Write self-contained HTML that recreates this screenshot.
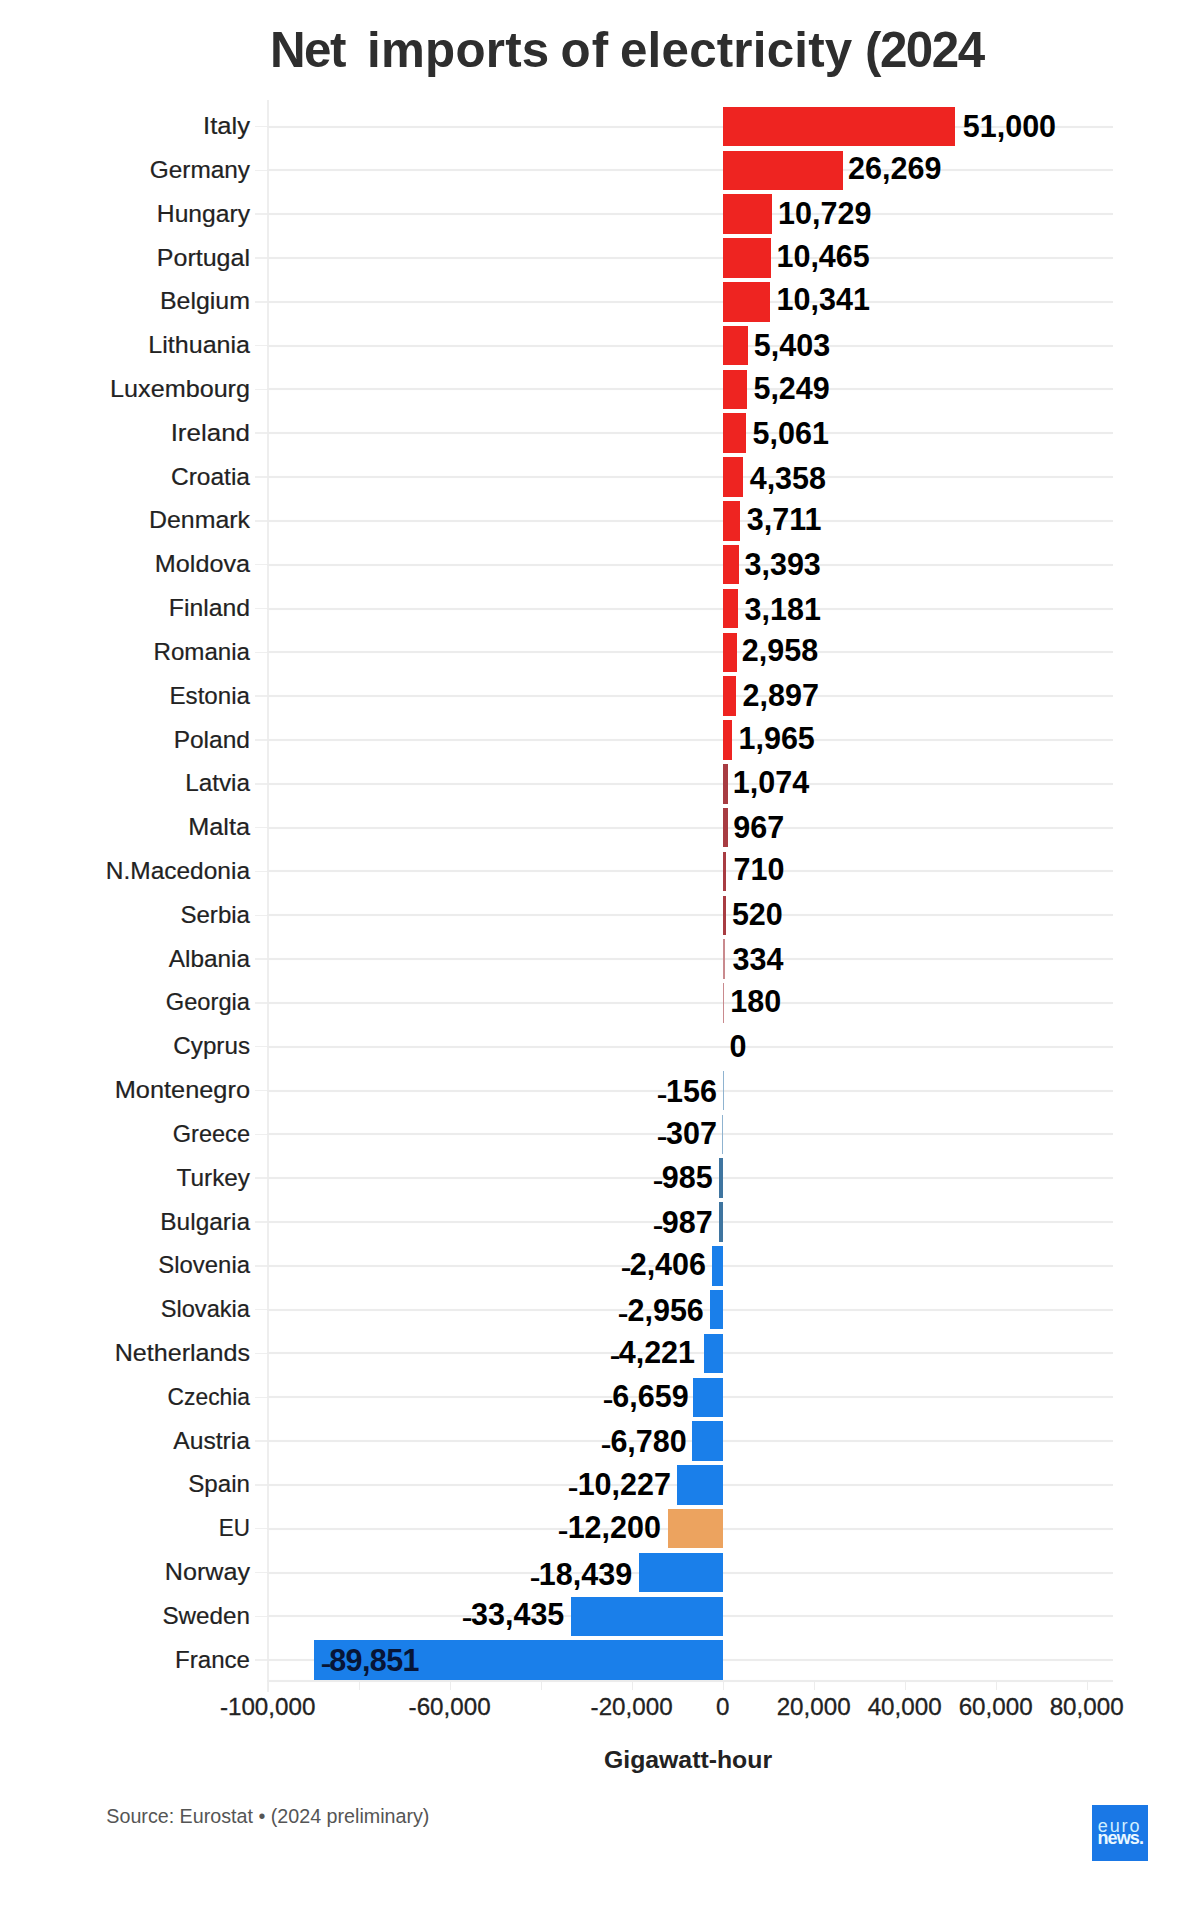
<!DOCTYPE html>
<html><head><meta charset="utf-8"><title>Net imports of electricity (2024</title>
<style>
*{margin:0;padding:0;box-sizing:border-box}
html,body{width:1200px;height:1908px;background:#fff;overflow:hidden}
body{position:relative;font-family:"Liberation Sans",sans-serif}
.a{position:absolute;white-space:nowrap}
.t{line-height:1}
.lbl{font-size:24.5px;color:#222;-webkit-text-stroke:0.2px #222;text-align:right;width:240px;left:10px;transform-origin:right center}
.val{font-size:30.5px;font-weight:bold;color:#000;transform:scaleY(1.03)}
.m{display:inline-block;transform:translate(1px,3px) scale(1.05,0.72)}
.ax{font-size:24.2px;color:#222;-webkit-text-stroke:0.3px #222;text-align:center;width:140px}
.g{position:absolute;height:2px;background:#ececec;box-shadow:0 0 1px #f6f6f6}
.b{position:absolute}
</style></head><body>

<div class="a t" style="left:270px;top:25.27px;font-size:49.3px;font-weight:bold;color:#2e2e2e;letter-spacing:-1.5px">Net</div>
<div class="a t" style="left:367px;top:25.27px;font-size:49.3px;font-weight:bold;color:#2e2e2e;letter-spacing:0.25px">imports</div>
<div class="a t" style="left:560.5px;top:25.27px;font-size:49.3px;font-weight:bold;color:#2e2e2e;letter-spacing:1.2px">of</div>
<div class="a t" style="left:620px;top:25.27px;font-size:49.3px;font-weight:bold;color:#2e2e2e;letter-spacing:0.2px">electricity</div>
<div class="a t" style="left:865px;top:25.27px;font-size:49.3px;font-weight:bold;color:#2e2e2e;letter-spacing:-1.5px">(2024</div>
<div class="a" style="left:267px;top:100px;width:1.5px;height:1592px;background:#eeeeee"></div>
<div class="g" style="left:267px;width:846px;top:125.50px"></div>
<div class="a" style="left:255px;width:12px;height:1.5px;top:125.75px;background:#efefef"></div>
<div class="g" style="left:267px;width:846px;top:169.32px"></div>
<div class="a" style="left:255px;width:12px;height:1.5px;top:169.57px;background:#efefef"></div>
<div class="g" style="left:267px;width:846px;top:213.14px"></div>
<div class="a" style="left:255px;width:12px;height:1.5px;top:213.39px;background:#efefef"></div>
<div class="g" style="left:267px;width:846px;top:256.96px"></div>
<div class="a" style="left:255px;width:12px;height:1.5px;top:257.21px;background:#efefef"></div>
<div class="g" style="left:267px;width:846px;top:300.78px"></div>
<div class="a" style="left:255px;width:12px;height:1.5px;top:301.03px;background:#efefef"></div>
<div class="g" style="left:267px;width:846px;top:344.60px"></div>
<div class="a" style="left:255px;width:12px;height:1.5px;top:344.85px;background:#efefef"></div>
<div class="g" style="left:267px;width:846px;top:388.42px"></div>
<div class="a" style="left:255px;width:12px;height:1.5px;top:388.67px;background:#efefef"></div>
<div class="g" style="left:267px;width:846px;top:432.24px"></div>
<div class="a" style="left:255px;width:12px;height:1.5px;top:432.49px;background:#efefef"></div>
<div class="g" style="left:267px;width:846px;top:476.06px"></div>
<div class="a" style="left:255px;width:12px;height:1.5px;top:476.31px;background:#efefef"></div>
<div class="g" style="left:267px;width:846px;top:519.88px"></div>
<div class="a" style="left:255px;width:12px;height:1.5px;top:520.13px;background:#efefef"></div>
<div class="g" style="left:267px;width:846px;top:563.70px"></div>
<div class="a" style="left:255px;width:12px;height:1.5px;top:563.95px;background:#efefef"></div>
<div class="g" style="left:267px;width:846px;top:607.52px"></div>
<div class="a" style="left:255px;width:12px;height:1.5px;top:607.77px;background:#efefef"></div>
<div class="g" style="left:267px;width:846px;top:651.34px"></div>
<div class="a" style="left:255px;width:12px;height:1.5px;top:651.59px;background:#efefef"></div>
<div class="g" style="left:267px;width:846px;top:695.16px"></div>
<div class="a" style="left:255px;width:12px;height:1.5px;top:695.41px;background:#efefef"></div>
<div class="g" style="left:267px;width:846px;top:738.98px"></div>
<div class="a" style="left:255px;width:12px;height:1.5px;top:739.23px;background:#efefef"></div>
<div class="g" style="left:267px;width:846px;top:782.80px"></div>
<div class="a" style="left:255px;width:12px;height:1.5px;top:783.05px;background:#efefef"></div>
<div class="g" style="left:267px;width:846px;top:826.62px"></div>
<div class="a" style="left:255px;width:12px;height:1.5px;top:826.87px;background:#efefef"></div>
<div class="g" style="left:267px;width:846px;top:870.44px"></div>
<div class="a" style="left:255px;width:12px;height:1.5px;top:870.69px;background:#efefef"></div>
<div class="g" style="left:267px;width:846px;top:914.26px"></div>
<div class="a" style="left:255px;width:12px;height:1.5px;top:914.51px;background:#efefef"></div>
<div class="g" style="left:267px;width:846px;top:958.08px"></div>
<div class="a" style="left:255px;width:12px;height:1.5px;top:958.33px;background:#efefef"></div>
<div class="g" style="left:267px;width:846px;top:1001.90px"></div>
<div class="a" style="left:255px;width:12px;height:1.5px;top:1002.15px;background:#efefef"></div>
<div class="g" style="left:267px;width:846px;top:1045.72px"></div>
<div class="a" style="left:255px;width:12px;height:1.5px;top:1045.97px;background:#efefef"></div>
<div class="g" style="left:267px;width:846px;top:1089.54px"></div>
<div class="a" style="left:255px;width:12px;height:1.5px;top:1089.79px;background:#efefef"></div>
<div class="g" style="left:267px;width:846px;top:1133.36px"></div>
<div class="a" style="left:255px;width:12px;height:1.5px;top:1133.61px;background:#efefef"></div>
<div class="g" style="left:267px;width:846px;top:1177.18px"></div>
<div class="a" style="left:255px;width:12px;height:1.5px;top:1177.43px;background:#efefef"></div>
<div class="g" style="left:267px;width:846px;top:1221.00px"></div>
<div class="a" style="left:255px;width:12px;height:1.5px;top:1221.25px;background:#efefef"></div>
<div class="g" style="left:267px;width:846px;top:1264.82px"></div>
<div class="a" style="left:255px;width:12px;height:1.5px;top:1265.07px;background:#efefef"></div>
<div class="g" style="left:267px;width:846px;top:1308.64px"></div>
<div class="a" style="left:255px;width:12px;height:1.5px;top:1308.89px;background:#efefef"></div>
<div class="g" style="left:267px;width:846px;top:1352.46px"></div>
<div class="a" style="left:255px;width:12px;height:1.5px;top:1352.71px;background:#efefef"></div>
<div class="g" style="left:267px;width:846px;top:1396.28px"></div>
<div class="a" style="left:255px;width:12px;height:1.5px;top:1396.53px;background:#efefef"></div>
<div class="g" style="left:267px;width:846px;top:1440.10px"></div>
<div class="a" style="left:255px;width:12px;height:1.5px;top:1440.35px;background:#efefef"></div>
<div class="g" style="left:267px;width:846px;top:1483.92px"></div>
<div class="a" style="left:255px;width:12px;height:1.5px;top:1484.17px;background:#efefef"></div>
<div class="g" style="left:267px;width:846px;top:1527.74px"></div>
<div class="a" style="left:255px;width:12px;height:1.5px;top:1527.99px;background:#efefef"></div>
<div class="g" style="left:267px;width:846px;top:1571.56px"></div>
<div class="a" style="left:255px;width:12px;height:1.5px;top:1571.81px;background:#efefef"></div>
<div class="g" style="left:267px;width:846px;top:1615.38px"></div>
<div class="a" style="left:255px;width:12px;height:1.5px;top:1615.63px;background:#efefef"></div>
<div class="g" style="left:267px;width:846px;top:1659.20px"></div>
<div class="a" style="left:255px;width:12px;height:1.5px;top:1659.45px;background:#efefef"></div>
<div class="g" style="left:267px;width:846px;top:1680px"></div>
<div class="a" style="left:267.50px;top:1681px;width:1.5px;height:9px;background:#ececec"></div>
<div class="a" style="left:358.50px;top:1681px;width:1.5px;height:9px;background:#ececec"></div>
<div class="a" style="left:449.50px;top:1681px;width:1.5px;height:9px;background:#ececec"></div>
<div class="a" style="left:540.50px;top:1681px;width:1.5px;height:9px;background:#ececec"></div>
<div class="a" style="left:631.50px;top:1681px;width:1.5px;height:9px;background:#ececec"></div>
<div class="a" style="left:722.50px;top:1681px;width:1.5px;height:9px;background:#ececec"></div>
<div class="a" style="left:813.50px;top:1681px;width:1.5px;height:9px;background:#ececec"></div>
<div class="a" style="left:904.50px;top:1681px;width:1.5px;height:9px;background:#ececec"></div>
<div class="a" style="left:995.50px;top:1681px;width:1.5px;height:9px;background:#ececec"></div>
<div class="a" style="left:1086.50px;top:1681px;width:1.5px;height:9px;background:#ececec"></div>
<div class="b" style="left:723.25px;top:106.75px;width:232.05px;height:39.5px;background:#ee2421"></div>
<div class="a t lbl" style="top:114.06px;transform:scaleX(1.044)">Italy</div>
<div class="a t val" style="left:962.80px;top:110.98px">51,000</div>
<div class="b" style="left:723.25px;top:150.57px;width:119.52px;height:39.5px;background:#ee2421"></div>
<div class="a t lbl" style="top:157.88px;transform:scaleX(0.995)">Germany</div>
<div class="a t val" style="left:848.07px;top:153.00px">26,269</div>
<div class="b" style="left:723.25px;top:194.39px;width:48.82px;height:39.5px;background:#ee2421"></div>
<div class="a t lbl" style="top:201.70px;transform:scaleX(1.006)">Hungary</div>
<div class="a t val" style="left:778.07px;top:198.22px">10,729</div>
<div class="b" style="left:723.25px;top:238.21px;width:47.62px;height:39.5px;background:#ee2421"></div>
<div class="a t lbl" style="top:245.52px;transform:scaleX(1.021)">Portugal</div>
<div class="a t val" style="left:776.47px;top:241.04px">10,465</div>
<div class="b" style="left:723.25px;top:282.03px;width:47.05px;height:39.5px;background:#ee2421"></div>
<div class="a t lbl" style="top:289.34px;transform:scaleX(1.018)">Belgium</div>
<div class="a t val" style="left:776.60px;top:284.16px">10,341</div>
<div class="b" style="left:723.25px;top:325.85px;width:24.58px;height:39.5px;background:#ee2421"></div>
<div class="a t lbl" style="top:333.16px;transform:scaleX(1.022)">Lithuania</div>
<div class="a t val" style="left:753.83px;top:329.98px">5,403</div>
<div class="b" style="left:723.25px;top:369.67px;width:23.88px;height:39.5px;background:#ee2421"></div>
<div class="a t lbl" style="top:376.98px;transform:scaleX(1.027)">Luxembourg</div>
<div class="a t val" style="left:753.43px;top:373.10px">5,249</div>
<div class="b" style="left:723.25px;top:413.49px;width:23.03px;height:39.5px;background:#ee2421"></div>
<div class="a t lbl" style="top:420.80px;transform:scaleX(1.059)">Ireland</div>
<div class="a t val" style="left:752.58px;top:418.32px">5,061</div>
<div class="b" style="left:723.25px;top:457.31px;width:19.83px;height:39.5px;background:#ee2421"></div>
<div class="a t lbl" style="top:464.62px;transform:scaleX(1.001)">Croatia</div>
<div class="a t val" style="left:749.68px;top:463.14px">4,358</div>
<div class="b" style="left:723.25px;top:501.13px;width:16.89px;height:39.5px;background:#ee2421"></div>
<div class="a t lbl" style="top:508.44px;transform:scaleX(1.016)">Denmark</div>
<div class="a t val" style="left:746.74px;top:504.26px">3,711</div>
<div class="b" style="left:723.25px;top:544.95px;width:15.44px;height:39.5px;background:#ee2421"></div>
<div class="a t lbl" style="top:552.26px;transform:scaleX(1.028)">Moldova</div>
<div class="a t val" style="left:744.49px;top:548.78px">3,393</div>
<div class="b" style="left:723.25px;top:588.77px;width:14.47px;height:39.5px;background:#ee2421"></div>
<div class="a t lbl" style="top:596.08px;transform:scaleX(1.011)">Finland</div>
<div class="a t val" style="left:744.52px;top:593.50px">3,181</div>
<div class="b" style="left:723.25px;top:632.59px;width:13.46px;height:39.5px;background:#ee2421"></div>
<div class="a t lbl" style="top:639.90px;transform:scaleX(0.984)">Romania</div>
<div class="a t val" style="left:741.81px;top:635.42px">2,958</div>
<div class="b" style="left:723.25px;top:676.41px;width:13.18px;height:39.5px;background:#ee2421"></div>
<div class="a t lbl" style="top:683.72px;transform:scaleX(0.985)">Estonia</div>
<div class="a t val" style="left:742.53px;top:679.64px">2,897</div>
<div class="b" style="left:723.25px;top:720.23px;width:8.94px;height:39.5px;background:#ee2421"></div>
<div class="a t lbl" style="top:727.54px;transform:scaleX(1.001)">Poland</div>
<div class="a t val" style="left:738.49px;top:723.06px">1,965</div>
<div class="b" style="left:723.25px;top:764.05px;width:4.89px;height:39.5px;background:#a83c42"></div>
<div class="a t lbl" style="top:771.36px;transform:scaleX(0.992)">Latvia</div>
<div class="a t val" style="left:732.84px;top:766.78px">1,074</div>
<div class="b" style="left:723.25px;top:807.87px;width:4.40px;height:39.5px;background:#a83c42"></div>
<div class="a t lbl" style="top:815.18px;transform:scaleX(1.032)">Malta</div>
<div class="a t val" style="left:733.35px;top:811.70px">967</div>
<div class="b" style="left:723.25px;top:851.69px;width:3.23px;height:39.5px;background:#a83c42"></div>
<div class="a t lbl" style="top:859.00px;transform:scaleX(0.999)">N.Macedonia</div>
<div class="a t val" style="left:733.58px;top:853.62px">710</div>
<div class="b" style="left:723.25px;top:895.51px;width:2.37px;height:39.5px;background:#a83c42"></div>
<div class="a t lbl" style="top:902.82px;transform:scaleX(0.982)">Serbia</div>
<div class="a t val" style="left:731.92px;top:899.34px">520</div>
<div class="b" style="left:723.25px;top:939.33px;width:1.52px;height:39.5px;background:#c98a8e"></div>
<div class="a t lbl" style="top:946.64px;transform:scaleX(0.994)">Albania</div>
<div class="a t val" style="left:732.47px;top:944.16px">334</div>
<div class="b" style="left:723.25px;top:983.15px;width:0.82px;height:39.5px;background:#c98a8e"></div>
<div class="a t lbl" style="top:990.46px;transform:scaleX(0.966)">Georgia</div>
<div class="a t val" style="left:730.37px;top:986.18px">180</div>
<div class="a t lbl" style="top:1034.28px;transform:scaleX(0.988)">Cyprus</div>
<div class="a t val" style="left:729.55px;top:1030.80px">0</div>
<div class="b" style="left:722.54px;top:1070.79px;width:0.71px;height:39.5px;background:#8fb3d0"></div>
<div class="a t lbl" style="top:1078.10px;transform:scaleX(1.035)">Montenegro</div>
<div class="a t val" style="right:483.06px;top:1075.92px"><span class="m">-</span>156</div>
<div class="b" style="left:721.85px;top:1114.61px;width:1.40px;height:39.5px;background:#8fb3d0"></div>
<div class="a t lbl" style="top:1121.92px;transform:scaleX(0.962)">Greece</div>
<div class="a t val" style="right:483.15px;top:1117.69px"><span class="m">-</span>307</div>
<div class="b" style="left:718.77px;top:1158.43px;width:4.48px;height:39.5px;background:#3f75a0"></div>
<div class="a t lbl" style="top:1165.74px;transform:scaleX(0.993)">Turkey</div>
<div class="a t val" style="right:487.33px;top:1162.26px"><span class="m">-</span>985</div>
<div class="b" style="left:718.76px;top:1202.25px;width:4.49px;height:39.5px;background:#3f75a0"></div>
<div class="a t lbl" style="top:1209.56px;transform:scaleX(0.998)">Bulgaria</div>
<div class="a t val" style="right:487.34px;top:1206.98px"><span class="m">-</span>987</div>
<div class="b" style="left:712.30px;top:1246.07px;width:10.95px;height:39.5px;background:#1a7fea"></div>
<div class="a t lbl" style="top:1253.38px;transform:scaleX(0.976)">Slovenia</div>
<div class="a t val" style="right:494.00px;top:1248.90px"><span class="m">-</span>2,406</div>
<div class="b" style="left:709.80px;top:1289.89px;width:13.45px;height:39.5px;background:#1a7fea"></div>
<div class="a t lbl" style="top:1297.20px;transform:scaleX(0.964)">Slovakia</div>
<div class="a t val" style="right:496.20px;top:1294.72px"><span class="m">-</span>2,956</div>
<div class="b" style="left:704.04px;top:1333.71px;width:19.21px;height:39.5px;background:#1a7fea"></div>
<div class="a t lbl" style="top:1341.02px;transform:scaleX(1.024)">Netherlands</div>
<div class="a t val" style="right:504.96px;top:1337.14px"><span class="m">-</span>4,221</div>
<div class="b" style="left:692.95px;top:1377.53px;width:30.30px;height:39.5px;background:#1a7fea"></div>
<div class="a t lbl" style="top:1384.84px;transform:scaleX(0.931)">Czechia</div>
<div class="a t val" style="right:511.35px;top:1380.96px"><span class="m">-</span>6,659</div>
<div class="b" style="left:692.40px;top:1421.35px;width:30.85px;height:39.5px;background:#1a7fea"></div>
<div class="a t lbl" style="top:1428.66px;transform:scaleX(1.007)">Austria</div>
<div class="a t val" style="right:513.30px;top:1425.78px"><span class="m">-</span>6,780</div>
<div class="b" style="left:676.72px;top:1465.17px;width:46.53px;height:39.5px;background:#1a7fea"></div>
<div class="a t lbl" style="top:1472.48px;transform:scaleX(0.985)">Spain</div>
<div class="a t val" style="right:529.08px;top:1468.80px"><span class="m">-</span>10,227</div>
<div class="b" style="left:667.74px;top:1508.99px;width:55.51px;height:39.5px;background:#eca35f"></div>
<div class="a t lbl" style="top:1516.30px;transform:scaleX(0.917)">EU</div>
<div class="a t val" style="right:539.06px;top:1512.32px"><span class="m">-</span>12,200</div>
<div class="b" style="left:639.35px;top:1552.81px;width:83.90px;height:39.5px;background:#1a7fea"></div>
<div class="a t lbl" style="top:1560.12px;transform:scaleX(1.026)">Norway</div>
<div class="a t val" style="right:567.85px;top:1559.24px"><span class="m">-</span>18,439</div>
<div class="b" style="left:571.12px;top:1596.63px;width:152.13px;height:39.5px;background:#1a7fea"></div>
<div class="a t lbl" style="top:1603.94px;transform:scaleX(0.989)">Sweden</div>
<div class="a t val" style="right:635.68px;top:1599.46px"><span class="m">-</span>33,435</div>
<div class="b" style="left:314.43px;top:1640.45px;width:408.82px;height:39.5px;background:#1a7fea"></div>
<div class="a t lbl" style="top:1647.76px;transform:scaleX(0.983)">France</div>
<div class="a t val" style="left:319.63px;top:1645.13px;color:#071536;letter-spacing:-0.6px"><span class="m">-</span>89,851</div>
<div class="a t ax" style="left:197.65px;top:1694.71px">-100,000</div>
<div class="a t ax" style="left:379.65px;top:1694.71px">-60,000</div>
<div class="a t ax" style="left:561.65px;top:1694.71px">-20,000</div>
<div class="a t ax" style="left:652.65px;top:1694.71px">0</div>
<div class="a t ax" style="left:743.65px;top:1694.71px">20,000</div>
<div class="a t ax" style="left:834.65px;top:1694.71px">40,000</div>
<div class="a t ax" style="left:925.65px;top:1694.71px">60,000</div>
<div class="a t ax" style="left:1016.65px;top:1694.71px">80,000</div>
<div class="a t" style="left:588px;width:200px;text-align:center;top:1748.01px;font-size:24.8px;font-weight:bold;color:#222">Gigawatt-hour</div>
<div class="a t" style="left:106.3px;top:1807.32px;font-size:19.7px;color:#555">Source: Eurostat • (2024 preliminary)</div>
<div class="a" style="left:1092px;top:1805px;width:56px;height:56px;background:#1a78e6">
<div class="a" style="left:5.8px;top:11.56px;font-size:18px;line-height:1;color:#cfeeff;letter-spacing:1.9px">euro</div>
<div class="a" style="left:5.5px;top:24.36px;font-size:18px;font-weight:bold;line-height:1;color:#eaf8ff;letter-spacing:-0.9px">news.</div>
</div>
</body></html>
